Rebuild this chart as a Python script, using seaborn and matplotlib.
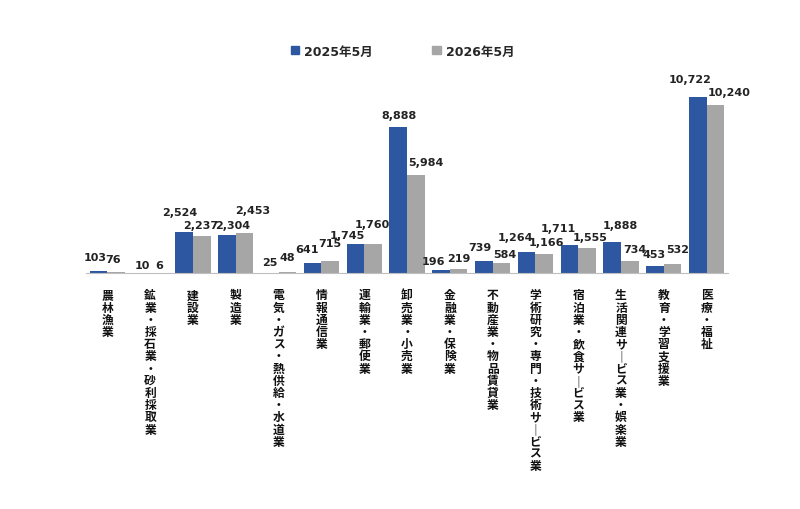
import numpy as np
import pandas as pd
import matplotlib
matplotlib.use("Agg")
import matplotlib.pyplot as plt
import seaborn as sns
from matplotlib.patches import Patch

sns.set_style("white")
plt.rcParams['font.family'] = ['DejaVu Sans', 'Noto Sans CJK JP']

# data
categories = ["農林漁業", "鉱業・採石業・砂利採取業", "建設業", "製造業",
              "電気・ガス・熱供給・水道業", "情報通信業", "運輸業・郵便業",
              "卸売業・小売業", "金融業・保険業", "不動産業・物品賃貸業",
              "学術研究・専門・技術サービス業", "宿泊業・飲食サービス業",
              "生活関連サービス業・娯楽業", "教育・学習支援業", "医療・福祉"]
series_names = ["2025年5月", "2026年5月"]
values_2025 = [103, 10, 2524, 2304, 25, 641, 1745, 8888, 196, 739, 1264, 1711, 1888, 453, 10722]
values_2026 = [76, 6, 2237, 2453, 48, 715, 1760, 5984, 219, 584, 1166, 1555, 734, 532, 10240]

# label nudges (pixels) to mimic the way the labels sit in the original
nudge_2025 = [(-3, 14), (1, 8), (-4, 20), (6, 10), (0, 11), (-6, 14), (-8, 9), (1, 12),
              (-8, 9), (-4, 14), (-11, 15), (-11, 17), (8, 17), (-1, 12), (-8, 18)]
nudge_2026 = [(-3, 13), (0, 8), (-1, 11), (8, 23), (0, 15), (0, 18), (-1, 20), (10, 13),
              (0, 11), (3, 9), (2, 12), (3, 11), (5, 12), (5, 15), (14, 13)]

colors = ["#2D57A0", "#A6A6A6"]

df = pd.DataFrame({
    "cat": categories * 2,
    "series": [series_names[0]] * len(categories) + [series_names[1]] * len(categories),
    "value": values_2025 + values_2026,
})

fig = plt.figure(figsize=(8, 5.1), dpi=100)
ax = fig.add_axes([0.1075, 0.4627, 0.8025, 0.386])

sns.barplot(data=df, x="cat", y="value", hue="series", palette=colors,
            width=0.82, ax=ax, legend=False, saturation=1, linewidth=0)

for cont, nudges in zip(ax.containers, [nudge_2025, nudge_2026]):
    for bar, v, (dx, dy) in zip(cont, cont.datavalues, nudges):
        ax.annotate(f"{v:,.0f}", (bar.get_x() + bar.get_width() / 2, bar.get_height()),
                    xytext=(dx, dy), textcoords="offset pixels",
                    ha="center", va="center", fontsize=8, fontweight="bold",
                    color="#222222")

ax.set_ylim(0, 12000)
ax.set_xlim(-0.5, len(categories) - 0.5)
ax.set_yticks([])
ax.set_xlabel("")
ax.set_ylabel("")
for s in ["top", "right", "left"]:
    ax.spines[s].set_visible(False)
ax.spines["bottom"].set_color("#BFBFBF")

# vertical (stacked) Japanese tick labels
def vert(s):
    return "\n".join("｜" if c == "ー" else c for c in s)

ax.set_xticks(range(len(categories)))
ax.set_xticklabels([vert(c) for c in categories], family="Noto Sans CJK JP",
                   fontsize=8.5, fontweight="bold", linespacing=0.92,
                   va="top", color="#111111")
ax.tick_params(axis="x", which="major", length=0, pad=11)
ax.set_xticks(np.arange(-0.5, len(categories), 1), minor=True)
ax.tick_params(axis="x", which="minor", length=3, color="#BFBFBF", direction="out")

handles = [Patch(color=colors[0], label=series_names[0]),
           Patch(color=colors[1], label=series_names[1])]
fig.legend(handles=handles, loc="center", bbox_to_anchor=(0.503, 0.898), ncol=2,
           frameon=False, handlelength=0.65, handleheight=0.65, handletextpad=0.4,
           columnspacing=4.8, prop={"weight": "bold", "size": 9})

fig.savefig("out.png", dpi=100)
